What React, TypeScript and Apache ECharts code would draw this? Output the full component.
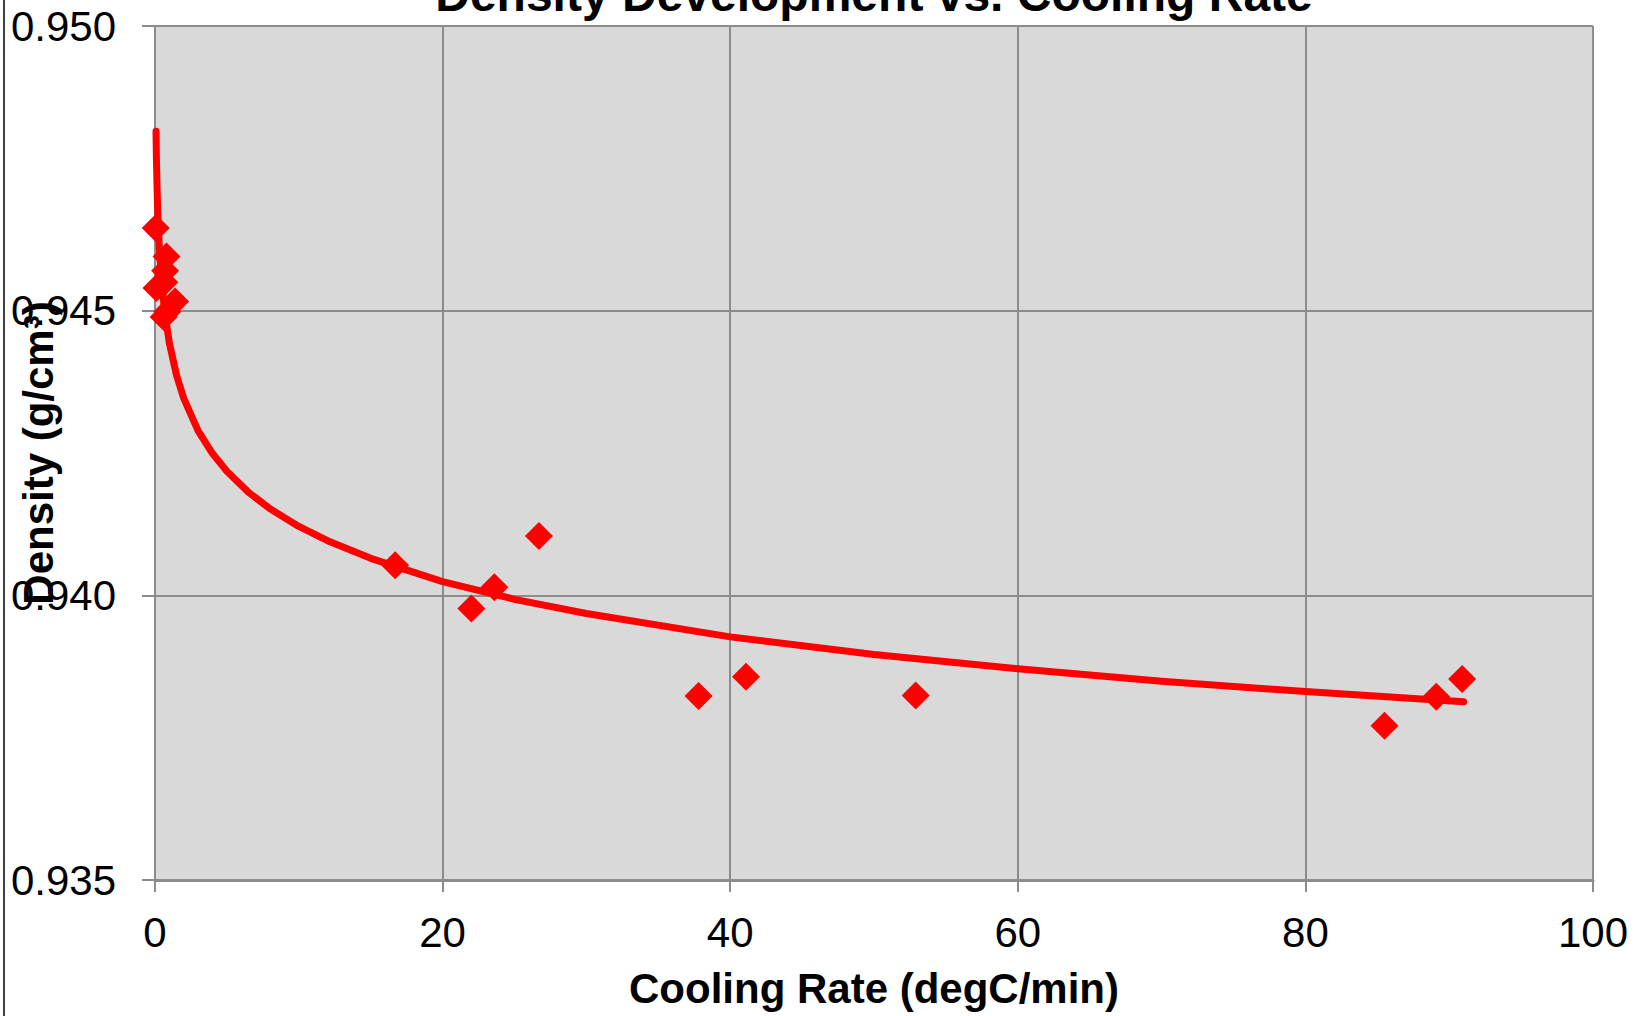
import React, { useEffect, useRef } from "react";
import * as echarts from "echarts";

const chartTitle = "Density Development vs. Cooling Rate";
const xAxisTitle = "Cooling Rate (degC/min)";
const yAxisTitle = "Density (g/cm³)";

// measured points: [cooling rate, density]
const measuredRate = [0.05, 0.8, 0.7, 0.65, 0.1, 1.4, 0.6, 0.85, 16.7, 22.0, 23.6, 26.7, 37.8, 41.1, 52.9, 85.5, 89.1, 90.9];
const measuredDensity = [0.94645, 0.94595, 0.9457, 0.9455, 0.9454, 0.94516, 0.94489, 0.94498, 0.94053, 0.93977, 0.94014, 0.94104, 0.93823, 0.93857, 0.93824, 0.93771, 0.93822, 0.93853];

// trend line
const trendRate = [0.07, 0.1, 0.15, 0.2, 0.3, 0.5, 0.7, 1, 1.5, 2, 3, 4, 5, 6.5, 8, 10, 12, 15, 20, 25, 30, 40, 50, 60, 70, 80, 91];
const trendDensity = [0.94815, 0.94765, 0.94708, 0.94668, 0.94611, 0.9454, 0.94493, 0.94443, 0.94386, 0.94346, 0.94289, 0.94249, 0.94218, 0.94181, 0.94152, 0.94121, 0.94096, 0.94065, 0.94024, 0.93993, 0.93968, 0.93927, 0.93896, 0.93871, 0.93849, 0.93831, 0.93813];

const FONT = "'Liberation Sans', Arial, sans-serif";
const GRID_COLOR = "#8c8c8c";

export default function App() {
  const ref = useRef<HTMLDivElement>(null);

  useEffect(() => {
    document.body.style.margin = "0";
    if (!ref.current) return;
    const chart = echarts.init(ref.current, undefined, { renderer: "svg" });
    const scatterData = measuredRate.map((x, i) => [x, measuredDensity[i]]);
    const trendData = trendRate.map((x, i) => [x, trendDensity[i]]);

    chart.setOption({
      animation: false,
      backgroundColor: "#ffffff",
      textStyle: { fontFamily: FONT },
      grid: {
        left: 155,
        top: 26,
        width: 1438,
        height: 854,
        show: true,
        backgroundColor: "#d9d9d9",
        borderWidth: 0,
        containLabel: false,
        outerBoundsMode: "none",
      },
      graphic: [
        {
          type: "line",
          shape: { x1: 4, y1: 0, x2: 4, y2: 1016 },
          style: { stroke: "#404040", lineWidth: 2 },
        },
        {
          type: "text",
          x: 874,
          y: -5.5,
          style: {
            text: chartTitle,
            font: `bold 48px ${FONT}`,
            fill: "#000",
            textAlign: "center",
            textVerticalAlign: "middle",
          },
        },
      ],
      xAxis: {
        type: "value",
        min: 0,
        max: 100,
        interval: 20,
        name: xAxisTitle,
        nameLocation: "middle",
        nameGap: 87,
        nameMoveOverlap: false,
        nameTextStyle: { fontFamily: FONT, fontSize: 42, fontWeight: "bold", color: "#000" },
        axisLine: { show: true, onZero: false, lineStyle: { color: GRID_COLOR, width: 3 } },
        axisTick: { show: true, inside: false, length: 12, lineStyle: { color: GRID_COLOR, width: 2 } },
        axisLabel: { margin: 31, fontFamily: FONT, fontSize: 42, color: "#000" },
        splitLine: { show: true, lineStyle: { color: GRID_COLOR, width: 2 } },
      },
      yAxis: {
        type: "value",
        min: 0.935,
        max: 0.95,
        interval: 0.005,
        name: yAxisTitle,
        nameLocation: "middle",
        nameGap: 96,
        nameMoveOverlap: false,
        nameTextStyle: { fontFamily: FONT, fontSize: 42, fontWeight: "bold", color: "#000" },
        axisLine: { show: true, onZero: false, lineStyle: { color: GRID_COLOR, width: 2 } },
        axisTick: { show: true, inside: false, length: 13, lineStyle: { color: GRID_COLOR, width: 2 } },
        axisLabel: {
          margin: 39,
          fontFamily: FONT,
          fontSize: 42,
          color: "#000",
          formatter: (v: number) => v.toFixed(3),
        },
        splitLine: { show: true, lineStyle: { color: GRID_COLOR, width: 2 } },
      },
      series: [
        {
          type: "scatter",
          data: scatterData,
          symbol: "diamond",
          symbolSize: 28,
          itemStyle: { color: "#ff0000", opacity: 1 },
          z: 2,
        },
        {
          type: "line",
          data: trendData,
          showSymbol: false,
          smooth: false,
          lineStyle: { color: "#ff0000", width: 7, cap: "round", join: "round", opacity: 1 },
          z: 3,
        },
      ],
    });

    return () => chart.dispose();
  }, []);

  return <div ref={ref} style={{ width: 1643, height: 1016 }} />;
}
